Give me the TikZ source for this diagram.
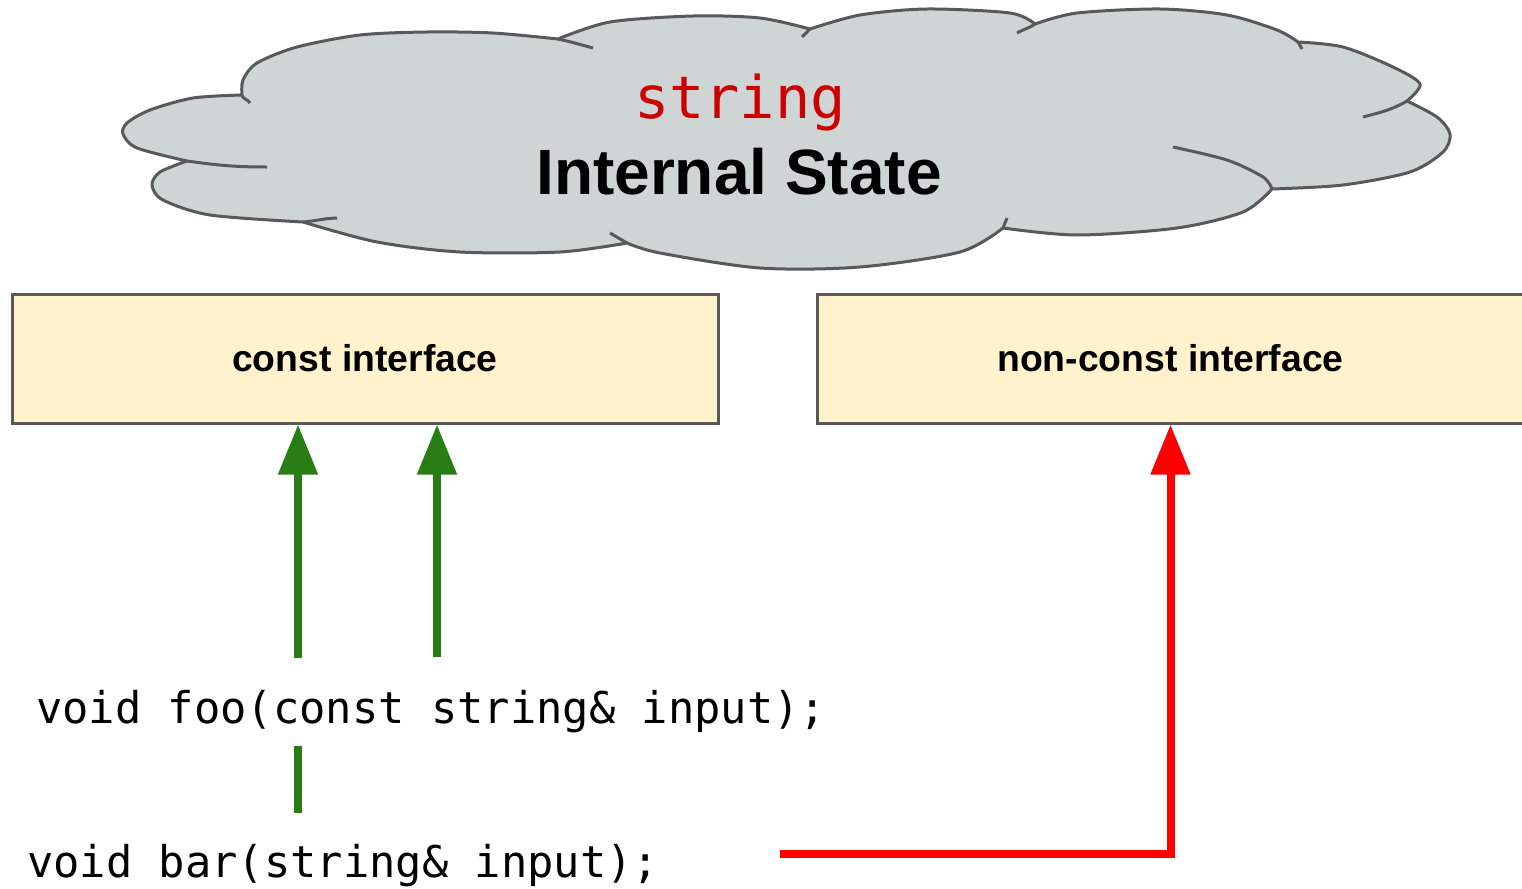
\documentclass[tikz,border=0pt]{standalone}
\usepackage{fontspec}
\setmainfont{Liberation Sans}
\newfontfamily\codefont{DejaVu Sans Mono}
\usetikzlibrary{arrows.meta}
\definecolor{cloudfill}{HTML}{CFD4D4}
\definecolor{edgegray}{HTML}{595959}
\definecolor{boxfill}{HTML}{FFF2CC}
\definecolor{okgreen}{HTML}{287E15}
\definecolor{codered}{HTML}{CC0000}
\begin{document}
\begin{tikzpicture}[x=0.75pt,y=0.75pt,
  cloudline/.style={draw=edgegray, line width=2.25pt, line join=round},
  ifacebox/.style={draw=edgegray, fill=boxfill, line width=2.25pt, inner sep=0pt,
    font=\fontsize{28pt}{30pt}\selectfont\bfseries},
  codetext/.style={anchor=base west, inner sep=0pt, font=\codefont\fontsize{32.8pt}{36pt}\selectfont},
  okline/.style={draw=okgreen, line width=6pt},
  okarrow/.style={okline, -{Triangle[length=37.5pt,width=28.5pt]}},
  badarrow/.style={draw=red, line width=6pt, line join=miter, -{Triangle[length=37.5pt,width=28.5pt]}},
]
\useasboundingbox (0,0) rectangle (1522,-889);

% cloud outline, one smooth run per lobe
\path[cloudline, fill=cloudfill]
  (242,-95)
  -- plot[smooth] coordinates {(242,-95) (243,-80) (257,-63) (297,-47) (360,-35) (427,-32) (493,-33) (558,-39)}
  -- plot[smooth] coordinates {(558,-39) (610,-22) (693,-16) (760,-18) (810,-29)}
  -- plot[smooth] coordinates {(810,-29) (860,-15) (927,-9) (1010,-13) (1035,-24)}
  -- plot[smooth] coordinates {(1035,-24) (1077,-13) (1160,-9) (1227,-15) (1277,-30) (1298,-42)}
  -- plot[smooth] coordinates {(1298,-42) (1343,-47) (1393,-67) (1420,-84) (1407,-101)}
  -- plot[smooth] coordinates {(1407,-101) (1437,-117) (1450,-134) (1443,-152) (1410,-172) (1343,-185) (1272,-189)}
  -- plot[smooth] coordinates {(1272,-189) (1243,-212) (1177,-228) (1077,-235) (1003,-228)}
  -- plot[smooth] coordinates {(1003,-228) (960,-252) (860,-267) (760,-268) (660,-253) (627,-243)}
  -- plot[smooth] coordinates {(627,-243) (560,-252) (460,-252) (377,-242) (303,-222)}
  -- plot[smooth] coordinates {(303,-222) (210,-215) (163,-200) (152,-185) (160,-172) (187,-161)}
  -- plot[smooth] coordinates {(187,-161) (137,-148) (123,-134) (127,-123) (150,-110) (193,-98) (242,-95)}
  -- cycle;
% inner stroke ends of the lobes
\draw[cloudline] (242,-95) to[out=-80,in=120] (250,-103);
\draw[cloudline] (558,-39) to[out=-12,in=165] (593,-48);
\draw[cloudline] (810,-29) to[out=-135,in=45] (802,-37);
\draw[cloudline] (1035,-24) to[out=-145,in=30] (1017,-33);
\draw[cloudline] (1298,-42) to[out=-80,in=95] (1302,-49);
\draw[cloudline] (1407,-101) to[out=-150,in=15] (1363,-117);
\draw[cloudline] plot[smooth] coordinates {(1272,-189) (1263,-177) (1227,-160) (1173,-147)};
\draw[cloudline] (1003,-228) to[out=70,in=-110] (1007,-218);
\draw[cloudline] (627,-243) to[out=150,in=-30] (610,-233);
\draw[cloudline] (303,-222) to[out=5,in=182] (337,-218);
\draw[cloudline] (187,-161) to[out=-8,in=180] (267,-167);

\node[anchor=base, inner sep=0pt, text=codered,
  font=\codefont\fontsize{44pt}{48pt}\selectfont] (typename) at (740,-118) {string};
\node[anchor=base, inner sep=0pt, font=\fontsize{48pt}{54pt}\selectfont\bfseries]
  (statelabel) at (739,-194) {Internal State};

% interfaces
\node[ifacebox, minimum width=529.5pt, minimum height=96.75pt] (cbox) at (365,-358.5) {const interface};
\node[ifacebox, minimum width=530.25pt, minimum height=96.75pt] (nbox) at (1170.5,-358.5) {non-const interface};

% code
\node[codetext] (foo) at (36,-723) {void foo(const string\& input);};
\node[codetext] (bar) at (27,-877) {void bar(string\& input);};

% connectors
\coordinate (g1) at (298,-658);
\coordinate (g2) at (437,-657);
\draw[okarrow] (g1) -- (g1 |- cbox.south);
\draw[okarrow] (g2) -- (g2 |- cbox.south);
\coordinate (g3a) at (298,-746);
\coordinate (g3b) at (298,-813);
\draw[okline] (g3a) -- (g3b);
\coordinate (r0) at (780,-854);
\coordinate (rc) at (1170.5,-854);
\draw[badarrow] (r0) -- (rc) -- (rc |- nbox.south);
\end{tikzpicture}
\end{document}
